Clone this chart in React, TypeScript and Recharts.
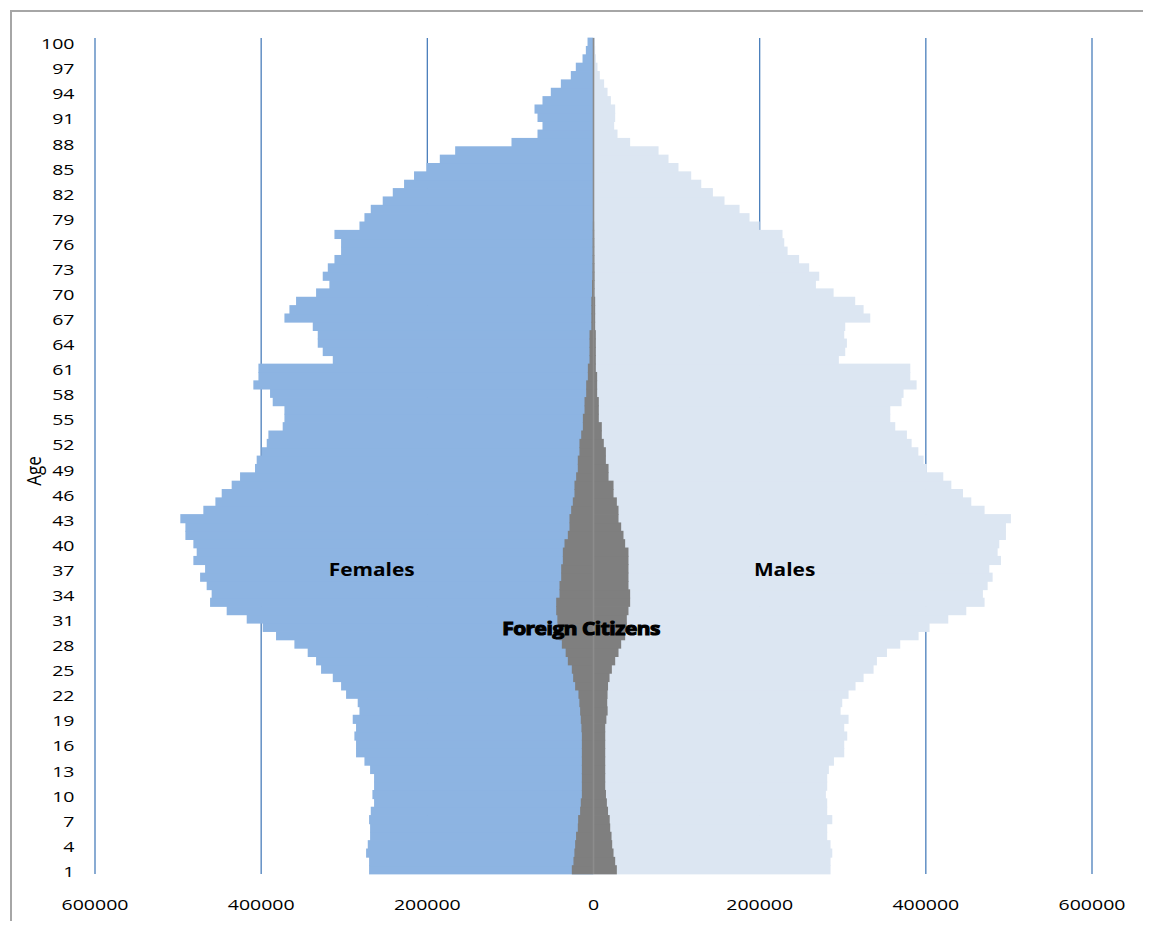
import React from 'react';
import { BarChart, Bar, XAxis, YAxis, CartesianGrid, ReferenceLine, ReferenceDot } from 'recharts';

// Categories: ages 1..100 (bottom to top)
const ages: number[] = Array.from({ length: 100 }, (_, i) => i + 1);

// Females (total), ages 1..100
const females: number[] = [
  270100, 270100, 273700, 271700, 268900, 268900, 270100, 268100, 264100, 266100,
  264100, 264100, 268900, 275700, 285800, 285800, 287800, 285800, 289800, 281700,
  283800, 297800, 303800, 313800, 327900, 333900, 344000, 360000, 382100, 398100,
  417400, 441500, 461500, 459600, 465600, 473500, 467500, 481600, 477600, 481600,
  491200, 491200, 497300, 469600, 455100, 447500, 435500, 425400, 407400, 405400,
  399400, 393300, 391300, 374100, 372000, 372000, 386100, 389300, 409400, 403300,
  403300, 313800, 325900, 331900, 331900, 337900, 372000, 366000, 358000, 333900,
  317900, 325900, 319800, 311800, 303800, 303800, 311800, 281700, 275700, 268100,
  253700, 241600, 228000, 216000, 201000, 185000, 166500, 98700, 67400, 61400,
  67400, 71000, 61400, 51400, 39300, 27300, 21300, 13200, 9200, 7200,
];

// Males (total), ages 1..100
const males: number[] = [
  285300, 285300, 287400, 285300, 281300, 281300, 287400, 281300, 281300, 279700,
  281300, 281300, 283300, 289400, 301800, 301800, 305400, 301800, 307000, 297400,
  299400, 307000, 315400, 325100, 337100, 341100, 353200, 369200, 391300, 404500,
  427000, 448700, 470700, 468700, 474400, 480400, 476400, 490400, 486400, 488400,
  496400, 496400, 502400, 470700, 454700, 444700, 430700, 421000, 401300, 397300,
  391000, 382900, 377200, 363200, 357200, 357200, 370800, 373200, 388900, 381300,
  381300, 295300, 303000, 305000, 301800, 303000, 333100, 325100, 315000, 289000,
  267700, 271700, 259600, 247500, 233600, 229600, 227500, 199900, 187800, 175800,
  157700, 143700, 129700, 117600, 102300, 90300, 78300, 44100, 28900, 24900,
  26100, 26100, 20900, 16900, 12800, 7600, 4800, 2800, 2000, 1500,
];

// Foreign citizens, females, ages 1..100
const foreignFemales: number[] = [
  26100, 24100, 23000, 22100, 21000, 18900, 18500, 16100, 15300, 14000,
  14000, 14000, 14000, 14000, 14000, 14000, 14000, 14500, 15300, 16100,
  17000, 18100, 22100, 24500, 26100, 30900, 33500, 38100, 41000, 42900,
  43500, 44900, 44900, 40900, 40900, 38900, 38900, 36900, 36900, 34900,
  30900, 28900, 28900, 26900, 24900, 22900, 22900, 20900, 18900, 18900,
  16900, 16900, 14800, 12800, 12800, 10800, 10800, 8800, 8800, 6800,
  6800, 4800, 4800, 4800, 4800, 2600, 2600, 2600, 2600, 1800,
  1800, 1200, 1100, 1000, 900, 900, 800, 700, 600, 600,
  500, 500, 400, 400, 300, 300, 300, 200, 200, 100,
  100, 100, 100, 50, 50, 50, 30, 20, 10, 10,
];

// Foreign citizens, males, ages 1..100
const foreignMales: number[] = [
  28100, 26100, 24100, 22500, 21700, 20100, 19500, 17500, 16100, 15000,
  14100, 14100, 14100, 14100, 14100, 14100, 14100, 14100, 15500, 17000,
  16500, 16900, 17500, 19300, 22100, 26100, 30100, 33300, 38100, 40100,
  40100, 42100, 44100, 44100, 42100, 42100, 42100, 42100, 42100, 38100,
  36100, 33300, 30100, 30100, 28100, 24100, 24100, 18100, 18100, 14900,
  14900, 12400, 10000, 10000, 6400, 6400, 6400, 4400, 4400, 4400,
  2800, 2800, 2800, 2800, 2800, 2000, 2000, 2000, 2000, 1200,
  1200, 1200, 1100, 1000, 900, 900, 800, 700, 600, 600,
  500, 500, 400, 400, 300, 300, 300, 200, 200, 100,
  100, 100, 100, 50, 50, 50, 30, 20, 10, 10,
];

const xTicks: number[] = [-600000, -400000, -200000, 0, 200000, 400000, 600000];

const data = ages.map((age, i) => ({
  age,
  females: -females[i],
  males: males[i],
  foreignF: -foreignFemales[i],
  foreignM: foreignMales[i],
}));

const FONT = '"Open Sans", "DejaVu Sans", sans-serif';
const BAR_SIZE = 8.35;

// Bar shape that slightly overlaps its neighbours so no seams appear between rows
const SeamlessBar = (p: any) => {
  if (p.width == null || p.height == null) return null;
  const x = Math.min(p.x, p.x + p.width);
  const w = Math.abs(p.width);
  const y = Math.min(p.y, p.y + p.height);
  const h = Math.abs(p.height);
  if (w === 0) return null;
  return <rect x={x} y={y - 0.4} width={w} height={h + 0.8} fill={p.fill} />;
};

const XTick = (props: any) => {
  const { x, y, payload } = props;
  return (
    <text
      transform={`translate(${x},${y + 36}) scale(1.3,1)`}
      textAnchor="middle"
      fontSize={15}
      fontFamily={FONT}
      fill="#000"
    >
      {Math.abs(payload.value)}
    </text>
  );
};

const YTick = (props: any) => {
  const { x, y, payload } = props;
  return (
    <text
      transform={`translate(${x - 20.5},${y + 7}) scale(1.3,1)`}
      textAnchor="end"
      fontSize={15}
      fontFamily={FONT}
      fill="#000"
    >
      {payload.value}
    </text>
  );
};

const AgeLabel = (props: any) => {
  const vb = props.viewBox || { x: 27, y: 30, width: 60, height: 836 };
  const cx = vb.x + 6;
  const cy = vb.y + vb.height / 2 + 15;
  return (
    <text
      transform={`translate(${cx},${cy}) scale(1.15,1) rotate(-90)`}
      textAnchor="middle"
      fontSize={17}
      fontFamily={FONT}
      fill="#000"
    >
      Age
    </text>
  );
};

const makeLabel = (text: string, heavy: boolean) => (p: any) => (
  <text
    transform={`translate(${p.cx},${p.cy + 7.6}) scale(1.16,1)`}
    textAnchor="middle"
    fontSize={18}
    fontWeight={700}
    fontFamily={FONT}
    fill="#000"
    stroke={heavy ? '#000' : 'none'}
    strokeWidth={heavy ? 1.1 : 0}
    letterSpacing={heavy ? -0.4 : 0}
  >
    {text}
  </text>
);

export default function App() {
  return (
    <div style={{ position: 'relative', width: 1143, height: 913, overflow: 'hidden', background: '#fff' }}>
      <div
        style={{
          position: 'absolute',
          left: 2,
          top: 2,
          width: 1300,
          height: 1100,
          border: '2px solid #a6a6a6',
          boxSizing: 'border-box',
        }}
      />
      <div style={{ position: 'absolute', left: 0, top: 0 }}>
        <BarChart
          width={1135}
          height={913}
          data={data}
          layout="vertical"
          margin={{ top: 30, right: 51, bottom: 17, left: 27 }}
          barCategoryGap={0}
          barGap="-100%"
        >
          <CartesianGrid horizontal={false} stroke="#4a7ebb" strokeWidth={1.3} />
          <XAxis
            type="number"
            domain={[-600000, 600000]}
            ticks={xTicks}
            interval={0}
            tick={<XTick />}
            tickLine={false}
            axisLine={false}
            tickSize={0}
            tickMargin={0}
            height={30}
            allowDataOverflow
          />
          <YAxis
            type="category"
            dataKey="age"
            reversed
            interval={2}
            tick={<YTick />}
            tickLine={false}
            axisLine={false}
            tickSize={0}
            tickMargin={0}
            width={60}
            label={{ content: <AgeLabel /> } as any}
          />
          <Bar dataKey="females" fill="#8DB4E2" barSize={BAR_SIZE} shape={SeamlessBar} isAnimationActive={false} />
          <Bar dataKey="males" fill="#DCE6F2" barSize={BAR_SIZE} shape={SeamlessBar} isAnimationActive={false} />
          <Bar dataKey="foreignF" fill="#7F7F7F" barSize={BAR_SIZE} shape={SeamlessBar} isAnimationActive={false} />
          <Bar dataKey="foreignM" fill="#7F7F7F" barSize={BAR_SIZE} shape={SeamlessBar} isAnimationActive={false} />
          <ReferenceLine x={0} stroke="#8c8c8c" strokeWidth={1.6} />
          <ReferenceDot x={-267000} y={37} r={0} shape={makeLabel('Females', false)} />
          <ReferenceDot x={230000} y={37} r={0} shape={makeLabel('Males', false)} />
          <ReferenceDot x={-15000} y={30} r={0} shape={makeLabel('Foreign Citizens', true)} />
        </BarChart>
      </div>
    </div>
  );
}
